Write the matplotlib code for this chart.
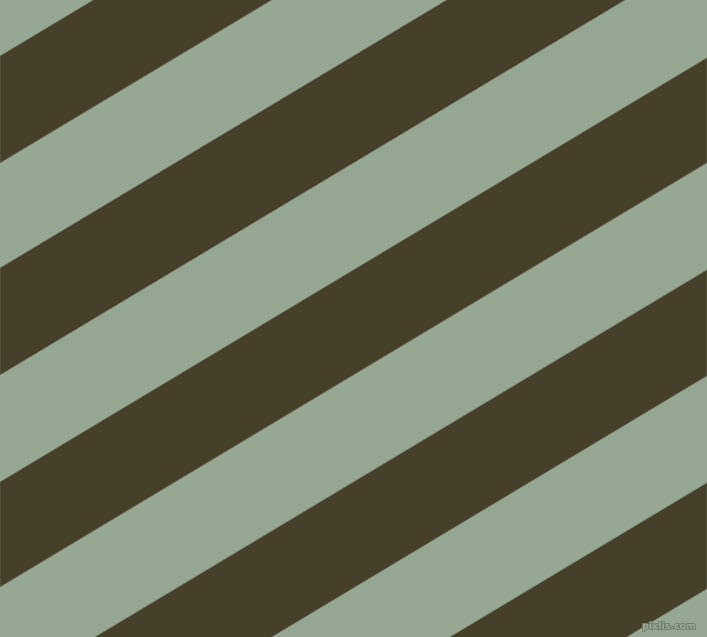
import matplotlib
matplotlib.use("Agg")
import matplotlib.pyplot as plt
import matplotlib.patheffects as pe

# picture size in pixels
W = 707
H = 637

# dark stripes: where each one starts and ends on the left edge (y, pixels)
dark_top = [56, 268, 482, 694, 907]
dark_bottom = [163, 375, 587, 800, 1013]
slope = 0.600  # stripes rise to the right

light_color = "#96a893"
dark_color = "#463f2a"

fig = plt.figure(figsize=(W / 100, H / 100), dpi=100)
ax = fig.add_axes([0, 0, 1, 1])
ax.set_xlim(0, W)
ax.set_ylim(H, 0)
ax.axis("off")
ax.add_patch(plt.Rectangle((0, 0), W, H, color=light_color, zorder=0))

for top, bottom in zip(dark_top, dark_bottom):
    xs = [0, W, W, 0]
    ys = [top, top - slope * W, bottom - slope * W, bottom]
    ax.fill(xs, ys, color=dark_color, linewidth=0.4, edgecolor="#6f7560", zorder=1)

# small watermark in the corner
ax.text(696, 626.5, "pixlis.com", fontsize=6.8, color="#9aab97", ha="right", va="center",
        fontweight="bold", zorder=2,
        path_effects=[pe.withStroke(linewidth=1.2, foreground="#6f7b6c")])

fig.savefig("out.png", dpi=100)
